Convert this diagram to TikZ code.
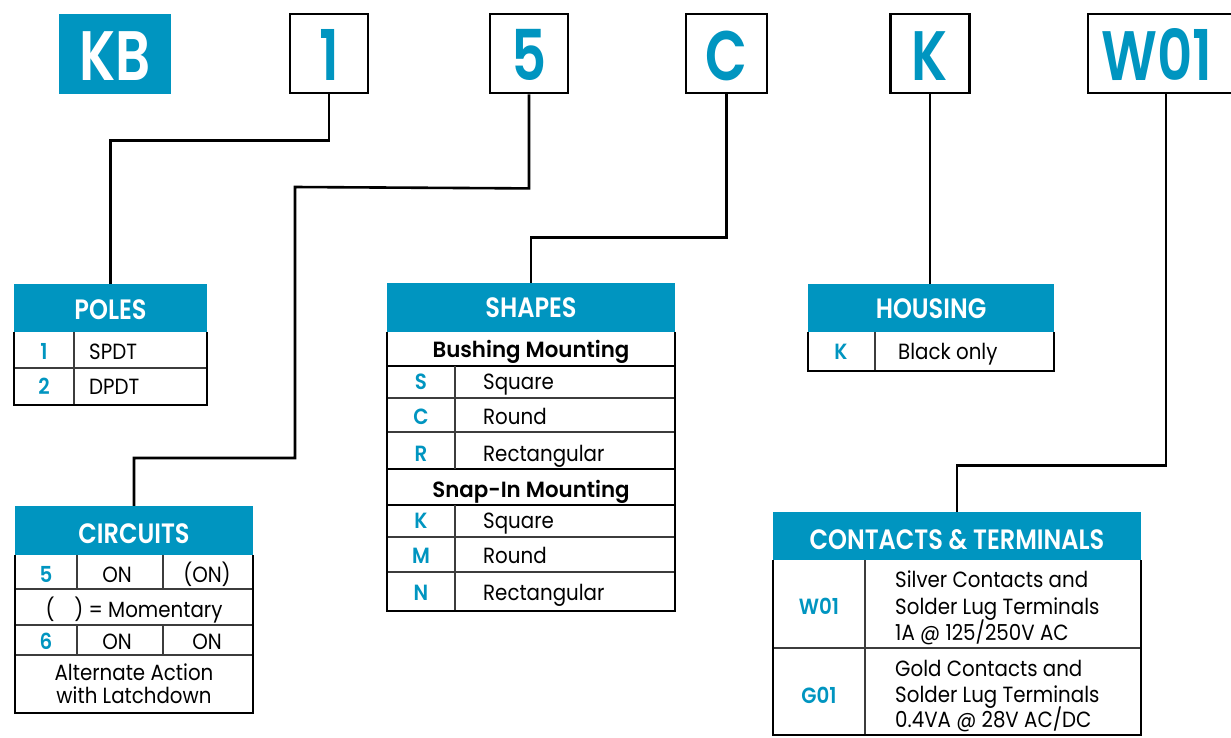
\documentclass[tikz,border=0pt]{standalone}
\usepackage{fontspec}
\setmainfont{Poppins}
\newfontfamily\bdf{Poppins}[FakeStretch=0.9]
\newfontfamily\sbf{Poppins SemiBold}[FakeStretch=0.9]
\newfontfamily\shf{Poppins SemiBold}[FakeStretch=0.97]
\newfontfamily\hdf{Poppins SemiBold}[FakeStretch=0.86]
\newfontfamily\tpf{Poppins SemiBold}[FakeStretch=0.78]
\definecolor{kb}{RGB}{0,149,192}
\definecolor{gridc}{RGB}{60,60,60}
\tikzset{
  topbox/.style={draw=black, line width=2.8pt, fill=white, inner sep=0pt},
  toptxt/.style={font=\tpf\fontsize{70}{72}\selectfont, text=kb, anchor=base, inner sep=0pt},
  hdr/.style={fill=kb, draw=none, inner sep=0pt},
  hdrtxt/.style={font=\hdf\fontsize{28}{30}\selectfont, text=white, anchor=base, inner sep=0pt},
  code/.style={font=\sbf\fontsize{22}{26}\selectfont, text=kb, anchor=base, inner sep=0pt},
  subh/.style={font=\shf\fontsize{22}{26}\selectfont, text=black, anchor=base, inner sep=0pt},
  body/.style={font=\bdf\fontsize{22}{26}\selectfont, text=black, anchor=base, inner sep=0pt},
  bodyl/.style={body, anchor=base west},
  outer/.style={draw=black, line width=2.6pt},
  inner/.style={draw=gridc, line width=1.3pt},
  innerk/.style={draw=black, line width=2pt},
  conn/.style={draw=black, line width=2.6pt},
}
\begin{document}
\begin{tikzpicture}[x=1pt,y=-1pt]
\useasboundingbox (0,0) rectangle (1231,737);
\fill[white] (0,0) rectangle (1231,737);

% ---------- top row ----------
\node[hdr, minimum width=112pt, minimum height=80pt] (kb) at (115,54) {};
\node[toptxt, text=white] (kbt) at (115,80) {KB};
\node[topbox, minimum width=78pt, minimum height=79pt] (b1) at (329,53.5) {};
\node[toptxt] (b1t) at (329,80) {1};
\node[topbox, minimum width=78pt, minimum height=79pt] (b5) at (529,53.5) {};
\node[toptxt] (b5t) at (529,80) {5};
\node[topbox, minimum width=81pt, minimum height=79pt] (bC) at (726.5,53.5) {};
\node[toptxt] (bCt) at (726.5,80) {C};
\node[topbox, minimum width=79pt, minimum height=79pt] (bK) at (930,53.5) {};
\node[toptxt] (bKt) at (930,80) {K};
\node[topbox, minimum width=156pt, minimum height=79pt] (bW) at (1166,53.5) {};
\node[toptxt] (bWt) at (1157,80) {W01};

% ---------- headers ----------
\node[hdr, minimum width=193pt, minimum height=48pt] (polesH) at (110.5,308) {};
\node[hdrtxt] (polesT) at (110.5,319) {POLES};
\node[hdr, minimum width=238pt, minimum height=49pt] (circH) at (134,530.5) {};
\node[hdrtxt] (circT) at (134,543) {CIRCUITS};
\node[hdr, minimum width=288pt, minimum height=49pt] (shpH) at (531,307.5) {};
\node[hdrtxt] (shpT) at (531,317) {SHAPES};
\node[hdr, minimum width=246pt, minimum height=48pt] (hsgH) at (931,308) {};
\node[hdrtxt] (hsgT) at (931,318) {HOUSING};
\node[hdr, minimum width=368pt, minimum height=48pt] (ctH) at (957,536) {};
\node[hdrtxt] (ctT) at (957,549) {CONTACTS \& TERMINALS};

% ---------- connectors ----------
\draw[conn] (b1.south) -- ++(0,46) -| (polesH.north);
\draw[conn] (b5.south) -- ++(0,94) -- (295,187) -- (295,458) -| (circH.north);
\draw[conn] (bC.south) -- ++(0,143) -| (shpH.north);
\draw[conn] (bK.south) -- (bK.south |- hsgH.north);
\draw[conn] (bW.south) -- ++(0,371) -| (ctH.north);

% ---------- POLES ----------
\draw[inner] (14,368) -- (207,368);
\draw[inner] (74,332) -- (74,405);
\draw[outer] (14,332) |- (207,405) -- (207,332);
\node[code] (p1c) at (44,359) {1};
\node[bodyl] (p1t) at (89,359) {SPDT};
\node[code] (p2c) at (44,394) {2};
\node[bodyl] (p2t) at (89,394) {DPDT};

% ---------- CIRCUITS ----------
\draw[inner] (15,589) -- (253,589);
\draw[inner] (15,625) -- (253,625);
\draw[inner] (15,655) -- (253,655);
\draw[inner] (77,555) -- (77,589) (163,555) -- (163,589);
\draw[inner] (77,625) -- (77,655) (163,625) -- (163,655);
\draw[outer] (15,555) |- (253,713) -- (253,555);
\node[code] (c5) at (46,582) {5};
\node[body] (c5a) at (117,582) {ON};
\node[body] (c5b) at (207,582) {(ON)};
\node[body] (cmom) at (134,617) {(\hspace{0.9em}) = Momentary};
\node[code] (c6) at (46,649) {6};
\node[body] (c6a) at (117,649) {ON};
\node[body] (c6b) at (207,649) {ON};
\node[body] (calt1) at (134,680) {Alternate Action};
\node[body] (calt2) at (134,703) {with Latchdown};

% ---------- SHAPES ----------
\draw[innerk] (387,366) -- (675,366);
\draw[inner] (387,398) -- (675,398);
\draw[inner] (387,432) -- (675,432);
\draw[innerk] (387,469) -- (675,469);
\draw[innerk] (387,505) -- (675,505);
\draw[inner] (387,537) -- (675,537);
\draw[inner] (387,572) -- (675,572);
\draw[inner] (455,366) -- (455,469) (455,505) -- (455,611);
\draw[outer] (387,332) |- (675,611) -- (675,332);
\node[subh] (sbm) at (531,357) {Bushing Mounting};
\node[code] (sS) at (421,389) {S};
\node[bodyl] (sSt) at (483,389) {Square};
\node[code] (sC) at (421,424) {C};
\node[bodyl] (sCt) at (483,424) {Round};
\node[code] (sR) at (421,461) {R};
\node[bodyl] (sRt) at (483,461) {Rectangular};
\node[subh] (ssm) at (531,497) {Snap-In Mounting};
\node[code] (sK) at (421,528) {K};
\node[bodyl] (sKt) at (483,528) {Square};
\node[code] (sM) at (421,563) {M};
\node[bodyl] (sMt) at (483,563) {Round};
\node[code] (sN) at (421,600) {N};
\node[bodyl] (sNt) at (483,600) {Rectangular};

% ---------- HOUSING ----------
\draw[inner] (875,332) -- (875,371);
\draw[outer] (808,332) |- (1054,371) -- (1054,332);
\node[code] (hK) at (841,359) {K};
\node[bodyl] (hKt) at (898,359) {Black only};

% ---------- CONTACTS ----------
\draw[inner] (773,648) -- (1141,648);
\draw[inner] (865,560) -- (865,735);
\draw[outer] (773,560) |- (1141,735) -- (1141,560);
\node[code] (cW) at (819,614) {W01};
\node[bodyl] (cW1) at (895,587) {Silver Contacts and};
\node[bodyl] (cW2) at (895,614) {Solder Lug Terminals};
\node[bodyl] (cW3) at (895,640) {1A @ 125/250V AC};
\node[code] (cG) at (819,703) {G01};
\node[bodyl] (cG1) at (895,676) {Gold Contacts and};
\node[bodyl] (cG2) at (895,702) {Solder Lug Terminals};
\node[bodyl] (cG3) at (895,727) {0.4VA @ 28V AC/DC};
\end{tikzpicture}
\end{document}
